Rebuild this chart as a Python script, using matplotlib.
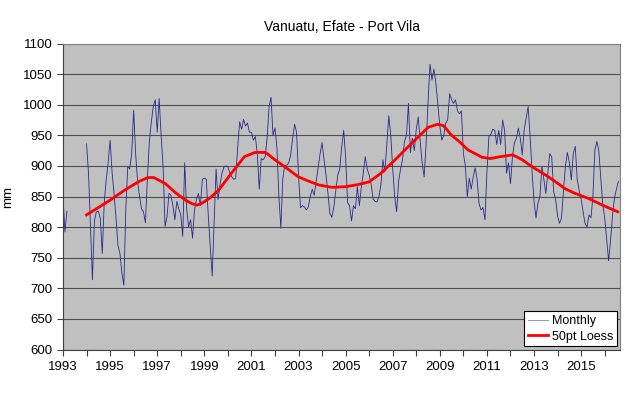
import numpy as np
import matplotlib
matplotlib.use("Agg")
import matplotlib.pyplot as plt

plt.rcParams['font.family'] = ['Liberation Sans', 'DejaVu Sans']

start_year = 1993

# Monthly rainfall (mm), one row per year, Jan..Dec; None = missing
monthly_mm = [
    850, 792, 826, None, None, None, None, None, None, None, None, None,   # 1993
    936, 888, 800, 714, 810, 825, 826, 815, 757, 839, 877, 905,           # 1994
    942, 890, 855, 815, 770, 757, 725, 705, 830, 899, 895, 920,           # 1995
    991, 920, 875, 850, 830, 825, 807, 880, 940, 972, 997, 1008,          # 1996
    955, 1010, 950, 899, 801, 817, 855, 852, 835, 812, 842, 830,          # 1997
    820, 785, 905, 830, 800, 812, 782, 828, 845, 855, 835, 878,           # 1998
    880, 878, 820, 770, 720, 810, 895, 845, 870, 888, 898, 900,           # 1999
    899, 888, 882, 878, 880, 930, 972, 960, 976, 965, 970, 955,           # 2000
    955, 942, 948, 920, 862, 912, 910, 915, 945, 997, 1012, 950,          # 2001
    962, 930, 850, 798, 880, 901, 901, 905, 918, 945, 968, 955,           # 2002
    885, 832, 835, 833, 828, 833, 850, 862, 852, 875, 899, 920,           # 2003
    938, 910, 885, 855, 822, 816, 833, 860, 885, 895, 931, 958,           # 2004
    915, 840, 835, 810, 835, 830, 866, 835, 865, 888, 915, 895,           # 2005
    885, 870, 846, 842, 841, 850, 870, 910, 890, 935, 982, 950,           # 2006
    895, 850, 825, 875, 895, 910, 940, 950, 1002, 922, 945, 925,          # 2007
    960, 980, 940, 904, 882, 935, 1005, 1066, 1040, 1058, 1035, 1000,     # 2008
    965, 942, 950, 970, 975, 1018, 1008, 1002, 1008, 990, 985, 990,       # 2009
    920, 900, 850, 880, 862, 882, 897, 878, 838, 828, 832, 812,           # 2010
    890, 948, 952, 960, 958, 935, 958, 935, 975, 958, 888, 905,           # 2011
    871, 915, 938, 945, 962, 945, 918, 960, 978, 997, 948, 890,           # 2012
    842, 815, 839, 850, 899, 878, 855, 888, 920, 915, 858, 845,           # 2013
    818, 806, 815, 860, 900, 922, 905, 877, 920, 932, 878, 860,           # 2014
    846, 825, 806, 800, 820, 815, 850, 926, 940, 925, 880, 838,           # 2015
    815, 779, 745, 778, 820, 848, 862, 875,                               # 2016
]

# 50pt loess curve
loess_year = [1994.0, 1994.5, 1995.0, 1995.6, 1996.2, 1996.6, 1996.85, 1997.1,
              1997.35, 1997.75, 1998.2, 1998.5, 1998.7, 1998.9, 1999.25, 1999.6,
              2000.15, 2000.7, 2001.15, 2001.6, 2002.0, 2002.4, 2003.0, 2003.5,
              2003.85, 2004.4, 2005.0, 2005.6, 2006.0, 2006.5, 2007.1, 2007.7,
              2008.1, 2008.5, 2008.9, 2009.15, 2009.5, 2009.85, 2010.2, 2010.8,
              2011.15, 2011.55, 2012.1, 2012.5, 2012.9, 2013.5, 2014.1, 2014.3,
              2014.75, 2015.3, 2015.9, 2016.55]
loess_mm = [820, 832, 844, 860, 874, 881, 881, 876,
            871, 857, 844, 838, 836, 839, 848, 860,
            888, 915, 922, 922, 910, 899, 882, 874,
            869, 865, 866, 870, 874, 888, 910, 933,
            948, 963, 968, 966, 950, 939, 926, 914,
            912, 915, 918, 910, 899, 885, 869, 863,
            855, 847, 836, 825]

x_labels = list(range(1993, 2016, 2))

vals = np.array([np.nan if v is None else v for v in monthly_mm], dtype=float)
t = start_year + np.arange(len(vals)) / 12.0

fig = plt.figure(figsize=(6.4, 3.93), dpi=100)
ax = fig.add_axes([63/640, 1 - 349.5/393, (620 - 63)/640, (349.5 - 43.5)/393])
ax.set_facecolor('#c0c0c0')

ax.plot(t, vals, color='#2a2a8c', lw=0.6, label='Monthly')
ax.plot(loess_year, loess_mm, color='red', lw=2.0, label='50pt Loess')

ax.set_xlim(1993, 2016.65)
ax.set_ylim(600, 1100)
ax.set_yticks(np.arange(600, 1101, 50))
ax.set_xticks(x_labels)
ax.set_xticks(range(1993, 2017), minor=True)
ax.grid(axis='y', color='#505050', lw=0.8)
ax.set_axisbelow(True)

ax.tick_params(axis='both', which='both', direction='out', length=4, width=0.8,
               color='#404040', labelsize=9.5)
ax.tick_params(axis='x', pad=4)

for s in ['top', 'right']:
    ax.spines[s].set_color('#808080')
for s in ['left', 'bottom']:
    ax.spines[s].set_color('#404040')

ax.set_title('Vanuatu, Efate - Port Vila', fontsize=10, pad=9)
ax.set_ylabel('mm', fontsize=9.5, labelpad=6)

leg = ax.legend(loc='lower right', fontsize=9, frameon=True, fancybox=False,
                borderaxespad=0.25, handlelength=1.6, handletextpad=0.3,
                borderpad=0.3, labelspacing=0.3)
leg.get_frame().set_edgecolor('black')
leg.get_frame().set_facecolor('white')
leg.get_frame().set_linewidth(0.8)
leg.get_frame().set_alpha(1)
leg.get_lines()[0].set_color('#8080b0')

fig.savefig('out.png', dpi=100)
